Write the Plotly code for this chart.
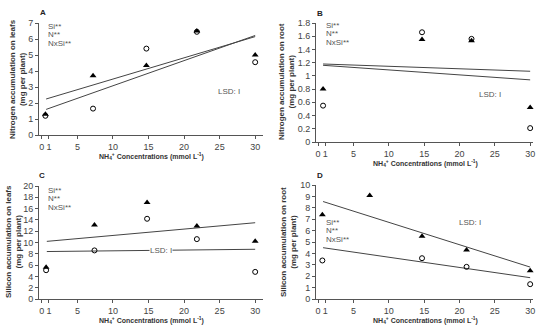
import plotly.graph_objects as go

# ---------------- data ----------------
xA = [0.5, 7.2, 14.7, 21.8, 30]
A_tri = [1.3, 3.7, 4.35, 6.5, 5.0]
A_circ = [1.2, 1.65, 5.4, 6.45, 4.55]
A_fit_x = [0.6, 30]
A_fit_tri = [2.25, 6.15]
A_fit_circ = [1.6, 6.22]

xB = [0.7, 14.7, 21.7, 30]
B_tri = [0.8, 1.55, 1.53, 0.52]
B_circ = [0.55, 1.66, 1.56, 0.21]
B_fit_x = [0.7, 30]
B_fit_tri = [1.18, 1.07]
B_fit_circ = [1.16, 0.94]

xC = [0.6, 7.4, 14.8, 21.8, 30]
C_tri = [5.6, 13.1, 17.1, 12.9, 10.2]
C_circ = [5.1, 8.6, 14.2, 10.6, 4.8]
C_fit_x = [0.7, 30]
C_fit_tri = [10.2, 13.5]
C_fit_circ = [8.4, 8.8]

xD = [0.6, 7.3, 14.7, 21.0, 30]
D_tri = [7.38, 9.07, 5.5, 4.3, 2.48]
D_circ = [3.38, None, 3.58, 2.82, 1.3]
D_fit_x = [0.7, 30]
D_fit_tri = [8.55, 2.8]
D_fit_circ = [4.5, 1.87]

x_ticks = [0, 1, 5, 10, 15, 20, 25, 30]
y_titles = ["Nitrogen accumulation on leafs<br>(mg per plant)",
            "Nitrogen accumulation on root<br>(mg per plant)",
            "Silicon accumulation on leafs<br>(mg per plant)",
            "Silicon accumulation on root<br>(mg per plant)"]
panel_letters = ["A", "B", "C", "D"]
stats_text = ["Si**", "N**", "NxSi**"]
lsd_text = "LSD: I"
x_title = "NH<sub>4</sub><sup>+</sup> Concentrations (mmol L<sup>-1</sup>)"

W, H = 536, 327
FONT = "Liberation Sans, Arial, sans-serif"

def px(x):
    return x / W

def py(y):
    return 1 - y / H

# plot boxes in pixels: (left, right, top, bottom)
boxes = [(39, 263, 23, 135), (316, 533, 23, 142), (39, 263, 186, 299), (316, 533, 185, 299)]
yranges = [[0, 7], [0, 1.8], [0, 20], [0, 10]]
ydticks = [1, 0.2, 2, 1]
xranges = [[-0.4, 31.1], [-0.3, 30.4], [-0.4, 31.1], [-0.3, 30.4]]

panels = [
    (xA, A_tri, A_circ, A_fit_x, A_fit_tri, A_fit_circ),
    (xB, B_tri, B_circ, B_fit_x, B_fit_tri, B_fit_circ),
    (xC, C_tri, C_circ, C_fit_x, C_fit_tri, C_fit_circ),
    (xD, D_tri, D_circ, D_fit_x, D_fit_tri, D_fit_circ),
]

fig = go.Figure()
layout = dict(width=W, height=H, margin=dict(l=0, r=0, t=0, b=0, autoexpand=False),
              paper_bgcolor="white", plot_bgcolor="white", showlegend=False,
              font=dict(family=FONT, size=9, color="#444"))
annotations = []

for i, (xs, tri, circ, fx, ftri, fcirc) in enumerate(panels):
    n = "" if i == 0 else str(i + 1)
    xa, ya = "x" + n, "y" + n
    l, r, t, b = boxes[i]
    layout["xaxis" + n] = dict(domain=[px(l), px(r)], range=xranges[i], anchor=ya,
                               tickvals=x_ticks, tickangle=0, automargin=False,
                               showline=True, linecolor="#555", linewidth=1,
                               ticks="outside", ticklen=3, tickcolor="#555", showgrid=False,
                               zeroline=False, tickfont=dict(size=9, color="#444", family=FONT))
    layout["yaxis" + n] = dict(domain=[py(b), py(t)], range=yranges[i], anchor=xa,
                               dtick=ydticks[i], tick0=0, automargin=False,
                               showline=True, linecolor="#555", linewidth=1,
                               ticks="outside", ticklen=3, tickcolor="#555", showgrid=False,
                               zeroline=False, tickfont=dict(size=9, color="#444", family=FONT))
    fig.add_trace(go.Scatter(x=fx, y=ftri, mode="lines", line=dict(color="#444", width=1),
                             xaxis=xa, yaxis=ya, cliponaxis=False))
    fig.add_trace(go.Scatter(x=fx, y=fcirc, mode="lines", line=dict(color="#444", width=1),
                             xaxis=xa, yaxis=ya, cliponaxis=False))
    fig.add_trace(go.Scatter(x=xs, y=tri, mode="markers", cliponaxis=False,
                             marker=dict(symbol="triangle-up", size=6, color="black"),
                             xaxis=xa, yaxis=ya))
    fig.add_trace(go.Scatter(x=xs, y=circ, mode="markers", cliponaxis=False,
                             marker=dict(symbol="circle-open", size=5, color="black",
                                         line=dict(width=1, color="black")),
                             xaxis=xa, yaxis=ya))

def ann(x, y, text, size, color, angle=0, xanchor="center", bg="rgba(0,0,0,0)"):
    return dict(x=px(x), y=py(y), xref="paper", yref="paper", text=text, showarrow=False,
                xanchor=xanchor, yanchor="middle", textangle=angle, bgcolor=bg,
                borderpad=0, font=dict(size=size, color=color, family=FONT))

# panel letters
letter_pos = [(43, 12), (320, 13), (42, 176), (320, 175)]
for (x, y), s in zip(letter_pos, panel_letters):
    annotations.append(ann(x, y, "<b>%s</b>" % s, 8, "#222"))

# y titles
ytitle_pos = [(17, 79), (287, 82), (13, 242), (288, 242)]
for (x, y), s in zip(ytitle_pos, y_titles):
    annotations.append(ann(x, y, "<b>%s</b>" % s, 8, "#333", angle=-90))

# x titles
xtitle_pos = [(151, 156), (425, 163), (151, 320), (425, 320)]
for (x, y) in xtitle_pos:
    annotations.append(ann(x, y, "<b>%s</b>" % x_title, 7, "#333"))

# stats text
stats_pos = [(47, 26), (325, 25), (47, 190), (325, 222)]
for (x, y) in stats_pos:
    for k, s in enumerate(stats_text):
        annotations.append(ann(x, y + 8.5 * k, s, 8, "#555", xanchor="left"))

# LSD text
lsd_pos = [(229, 91), (490, 94), (161, 250), (470, 222)]
for i, (x, y) in enumerate(lsd_pos):
    annotations.append(ann(x, y, lsd_text, 8, "#555", bg="white" if i == 2 else "rgba(0,0,0,0)"))

layout["annotations"] = annotations
fig.update_layout(**layout)
fig.write_html("out.html", config={"displayModeBar": False},
               post_script="document.body.style.margin='0px';document.body.style.padding='0px';")
